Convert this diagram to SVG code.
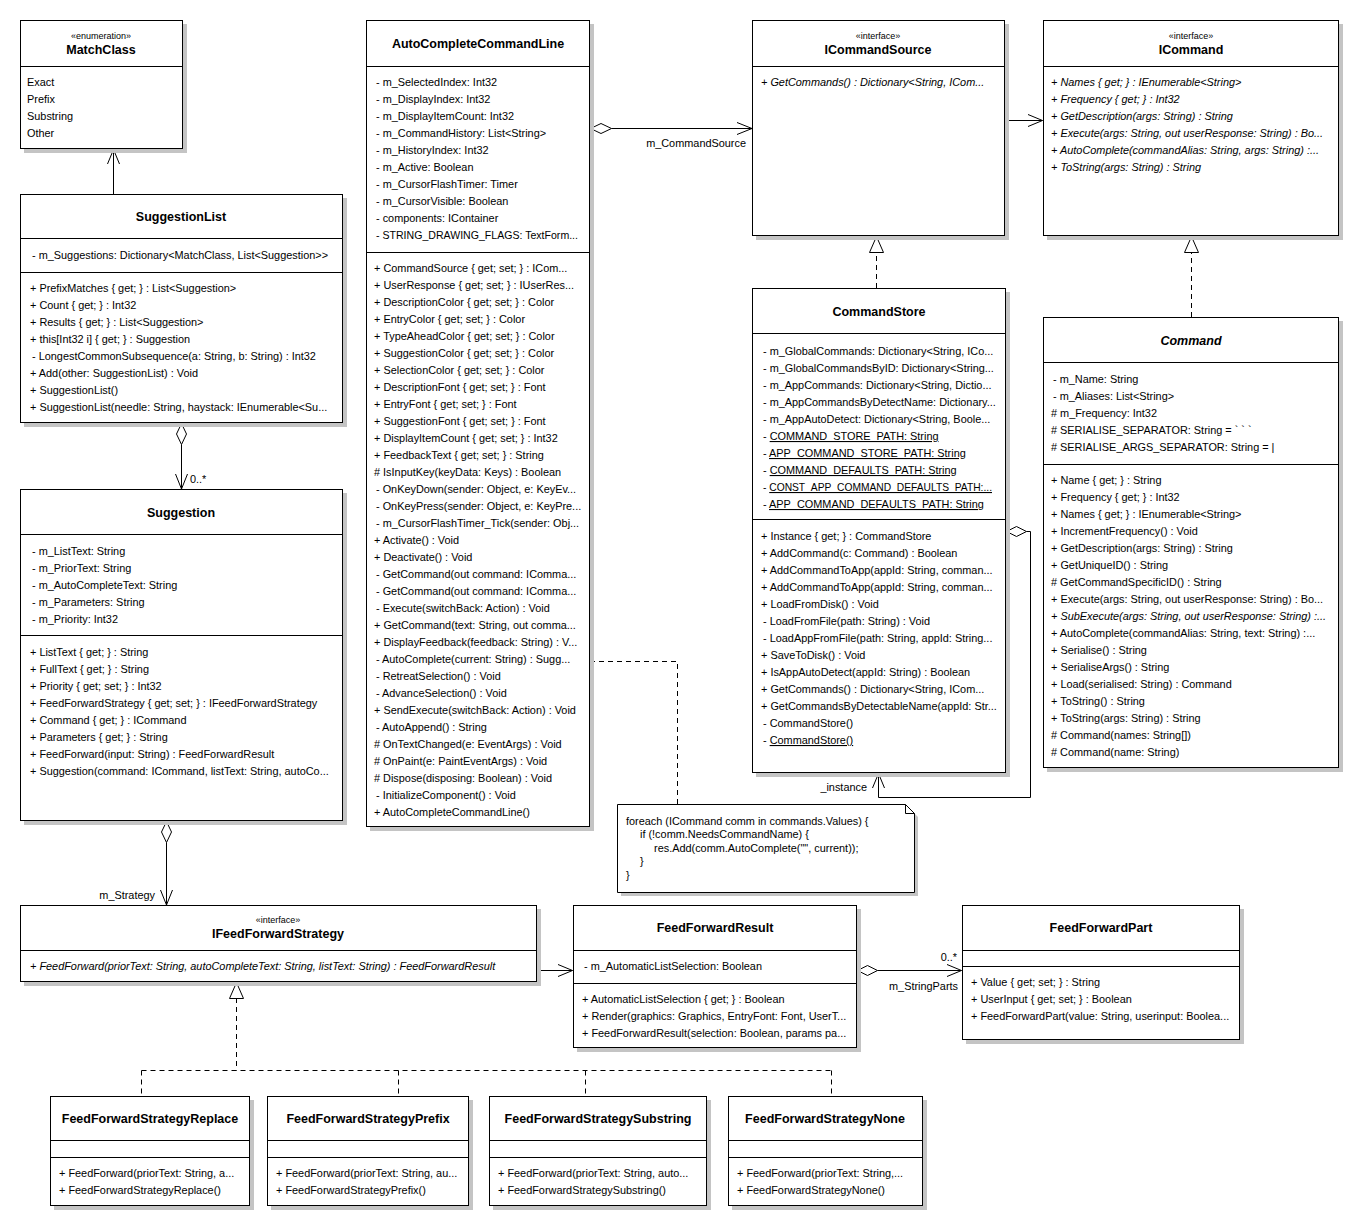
<svg xmlns="http://www.w3.org/2000/svg" width="1364" height="1231" viewBox="0 0 1364 1231">
<style>
.bg{fill:#fff}
.sh{fill:#c4c4c4}
.box{fill:#fff;stroke:#000;stroke-width:1}
.sep{stroke:#000;stroke-width:1}
text{font-family:"Liberation Sans",Arial,sans-serif;font-size:10.9px;fill:#000}
.ti{font-weight:bold;font-size:12.5px;text-anchor:middle}
.st{font-size:9px;text-anchor:middle}
.it{font-style:italic}
.u{text-decoration:underline}
.ln{fill:none;stroke:#000;stroke-width:1}
.dl{fill:none;stroke:#000;stroke-width:1;stroke-dasharray:5,4}
.dia{fill:#fff;stroke:#000;stroke-width:1}
.tri{fill:#fff;stroke:#000;stroke-width:1}
</style>
<rect class="bg" x="0" y="0" width="1364" height="1231"/>

<g id="connectors">
  <path class="ln" d="M113.5,194 V149.5 M107.5,164 L113.5,149.5 L119.5,164"/>
  <path class="dia" d="M181.5,423.5 L176.5,434 L181.5,444.5 L186.5,434 Z"/>
  <path class="ln" d="M181.5,444.5 V489 M175.5,474 L181.5,489 L187.5,474"/>
  <text x="190" y="483">0..*</text>
  <path class="dia" d="M166.5,821.5 L161.5,832 L166.5,842.5 L171.5,832 Z"/>
  <path class="ln" d="M166.5,842.5 V905 M160.5,890 L166.5,905 L172.5,890"/>
  <text x="155" y="899" text-anchor="end">m_Strategy</text>
  <path class="dia" d="M590.5,128.5 L601,123.5 L611.5,128.5 L601,133.5 Z"/>
  <path class="ln" d="M611.5,128.5 H752 M737,122.5 L752,128.5 L737,134.5"/>
  <text x="746" y="147" text-anchor="end">m_CommandSource</text>
  <path class="ln" d="M1005,120.5 H1042.5 M1028,114.5 L1042.5,120.5 L1028,126.5"/>
  <path class="dl" d="M876.5,288 V252"/>
  <path class="tri" d="M876.5,236.5 L869.5,252.5 L883.5,252.5 Z"/>
  <path class="dl" d="M1191.5,317 V252"/>
  <path class="tri" d="M1191.5,236.5 L1184.5,252.5 L1198.5,252.5 Z"/>
  <path class="dia" d="M1006.5,531.5 L1016.5,526.5 L1026.5,531.5 L1016.5,536.5 Z"/>
  <path class="ln" d="M1026.5,531.5 H1030.5 V797.5 H878.5 V773.5 M872.5,788 L878.5,773.5 L884.5,788"/>
  <text x="867" y="791" text-anchor="end">_instance</text>
  <path class="dl" d="M590,661.5 H677.5 V804"/>
  <path class="ln" d="M537,970.5 H572.5 M558,964.5 L572.5,970.5 L558,976.5"/>
  <path class="dia" d="M857.5,970.5 L867.5,965.5 L877.5,970.5 L867.5,975.5 Z"/>
  <path class="ln" d="M877.5,970.5 H961.5 M947,964.5 L961.5,970.5 L947,976.5"/>
  <text x="957" y="961" text-anchor="end">0..*</text>
  <text x="889" y="990">m_StringParts</text>
  <path class="dl" d="M236.5,998 V1070.5 M141.5,1070.5 H831.5 M141.5,1070.5 V1096 M398.5,1070.5 V1096 M585.5,1070.5 V1096 M831.5,1070.5 V1096"/>
  <path class="tri" d="M236.5,982.5 L229.5,998.5 L243.5,998.5 Z"/>
</g>

<g id="MatchClass">
  <rect class="sh" x="24" y="24" width="163" height="129"/>
  <rect class="box" x="20.5" y="20.5" width="162" height="128"/>
  <line class="sep" x1="20.5" y1="66.5" x2="182.5" y2="66.5"/>
  <text class="st" x="101" y="39">«enumeration»</text>
  <text class="ti" x="101" y="54">MatchClass</text>
  <text x="27" y="86">Exact</text>
  <text x="27" y="103">Prefix</text>
  <text x="27" y="120">Substring</text>
  <text x="27" y="137">Other</text>
</g>

<g id="SuggestionList">
  <rect class="sh" x="24" y="198" width="323" height="229"/>
  <rect class="box" x="20.5" y="194.5" width="322" height="228"/>
  <line class="sep" x1="20.5" y1="238.5" x2="342.5" y2="238.5"/>
  <line class="sep" x1="20.5" y1="272.5" x2="342.5" y2="272.5"/>
  <text class="ti" x="181" y="221">SuggestionList</text>
  <text x="32" y="259">- m_Suggestions: Dictionary&lt;MatchClass, List&lt;Suggestion&gt;&gt;</text>
  <text x="30" y="292">+ PrefixMatches { get; } : List&lt;Suggestion&gt;</text>
  <text x="30" y="309">+ Count { get; } : Int32</text>
  <text x="30" y="326">+ Results { get; } : List&lt;Suggestion&gt;</text>
  <text x="30" y="343">+ this[Int32 i] { get; } : Suggestion</text>
  <text x="32" y="360">- LongestCommonSubsequence(a: String, b: String) : Int32</text>
  <text x="30" y="377">+ Add(other: SuggestionList) : Void</text>
  <text x="30" y="394">+ SuggestionList()</text>
  <text x="30" y="411">+ SuggestionList(needle: String, haystack: IEnumerable&lt;Su...</text>
</g>

<g id="Suggestion">
  <rect class="sh" x="24" y="493" width="323" height="332"/>
  <rect class="box" x="20.5" y="489.5" width="322" height="331"/>
  <line class="sep" x1="20.5" y1="534.5" x2="342.5" y2="534.5"/>
  <line class="sep" x1="20.5" y1="635.5" x2="342.5" y2="635.5"/>
  <text class="ti" x="181" y="517">Suggestion</text>
  <text x="32" y="555">- m_ListText: String</text>
  <text x="32" y="572">- m_PriorText: String</text>
  <text x="32" y="589">- m_AutoCompleteText: String</text>
  <text x="32" y="606">- m_Parameters: String</text>
  <text x="32" y="623">- m_Priority: Int32</text>
  <text x="30" y="656">+ ListText { get; } : String</text>
  <text x="30" y="673">+ FullText { get; } : String</text>
  <text x="30" y="690">+ Priority { get; set; } : Int32</text>
  <text x="30" y="707">+ FeedForwardStrategy { get; set; } : IFeedForwardStrategy</text>
  <text x="30" y="724">+ Command { get; } : ICommand</text>
  <text x="30" y="741">+ Parameters { get; } : String</text>
  <text x="30" y="758">+ FeedForward(input: String) : FeedForwardResult</text>
  <text x="30" y="775">+ Suggestion(command: ICommand, listText: String, autoCo...</text>
</g>

<g id="AutoCompleteCommandLine">
  <rect class="sh" x="370" y="24" width="224" height="807"/>
  <rect class="box" x="366.5" y="20.5" width="223" height="806"/>
  <line class="sep" x1="366.5" y1="66.5" x2="589.5" y2="66.5"/>
  <line class="sep" x1="366.5" y1="252.5" x2="589.5" y2="252.5"/>
  <text class="ti" x="478" y="48">AutoCompleteCommandLine</text>
  <text x="376" y="86">- m_SelectedIndex: Int32</text>
  <text x="376" y="103">- m_DisplayIndex: Int32</text>
  <text x="376" y="120">- m_DisplayItemCount: Int32</text>
  <text x="376" y="137">- m_CommandHistory: List&lt;String&gt;</text>
  <text x="376" y="154">- m_HistoryIndex: Int32</text>
  <text x="376" y="171">- m_Active: Boolean</text>
  <text x="376" y="188">- m_CursorFlashTimer: Timer</text>
  <text x="376" y="205">- m_CursorVisible: Boolean</text>
  <text x="376" y="222">- components: IContainer</text>
  <text x="376" y="239" textLength="202" lengthAdjust="spacingAndGlyphs">- STRING_DRAWING_FLAGS:  TextForm...</text>
  <text x="374" y="272">+ CommandSource { get; set; } : ICom...</text>
  <text x="374" y="289">+ UserResponse { get; set; } : IUserRes...</text>
  <text x="374" y="306">+ DescriptionColor { get; set; } : Color</text>
  <text x="374" y="323">+ EntryColor { get; set; } : Color</text>
  <text x="374" y="340">+ TypeAheadColor { get; set; } : Color</text>
  <text x="374" y="357">+ SuggestionColor { get; set; } : Color</text>
  <text x="374" y="374">+ SelectionColor { get; set; } : Color</text>
  <text x="374" y="391">+ DescriptionFont { get; set; } : Font</text>
  <text x="374" y="408">+ EntryFont { get; set; } : Font</text>
  <text x="374" y="425">+ SuggestionFont { get; set; } : Font</text>
  <text x="374" y="442">+ DisplayItemCount { get; set; } : Int32</text>
  <text x="374" y="459">+ FeedbackText { get; set; } : String</text>
  <text x="374" y="476"># IsInputKey(keyData: Keys) : Boolean</text>
  <text x="376" y="493">- OnKeyDown(sender: Object, e: KeyEv...</text>
  <text x="376" y="510">- OnKeyPress(sender: Object, e: KeyPre...</text>
  <text x="376" y="527">- m_CursorFlashTimer_Tick(sender:  Obj...</text>
  <text x="374" y="544">+ Activate() : Void</text>
  <text x="374" y="561">+ Deactivate() : Void</text>
  <text x="376" y="578">- GetCommand(out  command:  IComma...</text>
  <text x="376" y="595">- GetCommand(out  command:  IComma...</text>
  <text x="376" y="612">- Execute(switchBack: Action) : Void</text>
  <text x="374" y="629">+ GetCommand(text: String,  out comma...</text>
  <text x="374" y="646">+ DisplayFeedback(feedback: String) : V...</text>
  <text x="376" y="663">- AutoComplete(current: String) : Sugg...</text>
  <text x="376" y="680">- RetreatSelection() : Void</text>
  <text x="376" y="697">- AdvanceSelection() : Void</text>
  <text x="374" y="714">+ SendExecute(switchBack: Action) : Void</text>
  <text x="376" y="731">- AutoAppend() : String</text>
  <text x="374" y="748"># OnTextChanged(e: EventArgs) : Void</text>
  <text x="374" y="765"># OnPaint(e: PaintEventArgs) : Void</text>
  <text x="374" y="782"># Dispose(disposing: Boolean) : Void</text>
  <text x="376" y="799">- InitializeComponent() : Void</text>
  <text x="374" y="816">+ AutoCompleteCommandLine()</text>
</g>

<g id="ICommandSource">
  <rect class="sh" x="756" y="24" width="253" height="216"/>
  <rect class="box" x="752.5" y="20.5" width="252" height="215"/>
  <line class="sep" x1="752.5" y1="66.5" x2="1004.5" y2="66.5"/>
  <text class="st" x="878" y="39">«interface»</text>
  <text class="ti" x="878" y="54">ICommandSource</text>
  <text class="it" x="761" y="86">+ GetCommands() : Dictionary&lt;String,  ICom...</text>
</g>

<g id="ICommand">
  <rect class="sh" x="1047" y="24" width="296" height="216"/>
  <rect class="box" x="1043.5" y="20.5" width="295" height="215"/>
  <line class="sep" x1="1043.5" y1="66.5" x2="1338.5" y2="66.5"/>
  <text class="st" x="1191" y="39">«interface»</text>
  <text class="ti" x="1191" y="54">ICommand</text>
  <text class="it" x="1051" y="86">+ Names { get; } : IEnumerable&lt;String&gt;</text>
  <text class="it" x="1051" y="103">+ Frequency { get; } : Int32</text>
  <text class="it" x="1051" y="120">+ GetDescription(args: String) : String</text>
  <text class="it" x="1051" y="137">+ Execute(args: String, out userResponse: String) : Bo...</text>
  <text class="it" x="1051" y="154">+ AutoComplete(commandAlias: String,  args: String) :...</text>
  <text class="it" x="1051" y="171">+ ToString(args: String) : String</text>
</g>

<g id="CommandStore">
  <rect class="sh" x="756" y="292" width="254" height="485"/>
  <rect class="box" x="752.5" y="288.5" width="253" height="484"/>
  <line class="sep" x1="752.5" y1="333.5" x2="1005.5" y2="333.5"/>
  <line class="sep" x1="752.5" y1="519.5" x2="1005.5" y2="519.5"/>
  <text class="ti" x="879" y="316">CommandStore</text>
  <text x="763" y="355">- m_GlobalCommands:  Dictionary&lt;String,  ICo...</text>
  <text x="763" y="372">- m_GlobalCommandsByID:  Dictionary&lt;String...</text>
  <text x="763" y="389">- m_AppCommands:  Dictionary&lt;String,  Dictio...</text>
  <text x="763" y="406">- m_AppCommandsByDetectName:  Dictionary...</text>
  <text x="763" y="423">- m_AppAutoDetect: Dictionary&lt;String, Boole...</text>
  <text x="763" y="440">- <tspan class="u">COMMAND_STORE_PATH: String</tspan></text>
  <text x="763" y="457">- <tspan class="u">APP_COMMAND_STORE_PATH: String</tspan></text>
  <text x="763" y="474">- <tspan class="u">COMMAND_DEFAULTS_PATH: String</tspan></text>
  <text x="763" y="491" textLength="229" lengthAdjust="spacingAndGlyphs">- <tspan class="u">CONST_APP_COMMAND_DEFAULTS_PATH:...</tspan></text>
  <text x="763" y="508">- <tspan class="u">APP_COMMAND_DEFAULTS_PATH: String</tspan></text>
  <text x="761" y="540">+ Instance { get; } : CommandStore</text>
  <text x="761" y="557">+ AddCommand(c: Command) : Boolean</text>
  <text x="761" y="574">+ AddCommandToApp(appId:  String,  comman...</text>
  <text x="761" y="591">+ AddCommandToApp(appId:  String,  comman...</text>
  <text x="761" y="608">+ LoadFromDisk() : Void</text>
  <text x="763" y="625">- LoadFromFile(path: String) : Void</text>
  <text x="763" y="642">- LoadAppFromFile(path: String,  appId: String...</text>
  <text x="761" y="659">+ SaveToDisk() : Void</text>
  <text x="761" y="676">+ IsAppAutoDetect(appId: String) : Boolean</text>
  <text x="761" y="693">+ GetCommands()  : Dictionary&lt;String,  ICom...</text>
  <text x="761" y="710">+ GetCommandsByDetectableName(appId:  Str...</text>
  <text x="763" y="727">- CommandStore()</text>
  <text x="763" y="744">- <tspan class="u">CommandStore()</tspan></text>
</g>

<g id="Command">
  <rect class="sh" x="1047" y="321" width="296" height="451"/>
  <rect class="box" x="1043.5" y="317.5" width="295" height="450"/>
  <line class="sep" x1="1043.5" y1="362.5" x2="1338.5" y2="362.5"/>
  <line class="sep" x1="1043.5" y1="464.5" x2="1338.5" y2="464.5"/>
  <text class="ti it" x="1191" y="345">Command</text>
  <text x="1053" y="383">- m_Name: String</text>
  <text x="1053" y="400">- m_Aliases: List&lt;String&gt;</text>
  <text x="1051" y="417"># m_Frequency: Int32</text>
  <text x="1051" y="434"># SERIALISE_SEPARATOR: String = ` ` `</text>
  <text x="1051" y="451"># SERIALISE_ARGS_SEPARATOR: String = |</text>
  <text x="1051" y="484">+ Name { get; } : String</text>
  <text x="1051" y="501">+ Frequency { get; } : Int32</text>
  <text x="1051" y="518">+ Names { get; } : IEnumerable&lt;String&gt;</text>
  <text x="1051" y="535">+ IncrementFrequency() : Void</text>
  <text x="1051" y="552">+ GetDescription(args: String) : String</text>
  <text x="1051" y="569">+ GetUniqueID() : String</text>
  <text x="1051" y="586"># GetCommandSpecificID() : String</text>
  <text x="1051" y="603">+ Execute(args: String, out userResponse: String) : Bo...</text>
  <text class="it" x="1051" y="620">+ SubExecute(args: String, out userResponse: String) :...</text>
  <text x="1051" y="637">+ AutoComplete(commandAlias: String, text: String) :...</text>
  <text x="1051" y="654">+ Serialise() : String</text>
  <text x="1051" y="671">+ SerialiseArgs() : String</text>
  <text x="1051" y="688">+ Load(serialised: String) : Command</text>
  <text x="1051" y="705">+ ToString() : String</text>
  <text x="1051" y="722">+ ToString(args: String) : String</text>
  <text x="1051" y="739"># Command(names: String[])</text>
  <text x="1051" y="756"># Command(name: String)</text>
</g>

<g id="Note">
  <path class="sh" d="M621,808 H909 L918,817 V896 H621 Z"/>
  <path class="box" d="M617.5,804.5 H905.5 L914.5,813.5 V892.5 H617.5 Z"/>
  <path class="ln" d="M905.5,804.5 V813.5 H914.5"/>
  <text x="626" y="825">foreach (ICommand comm in commands.Values) {</text>
  <text x="640" y="838">if (!comm.NeedsCommandName) {</text>
  <text x="654" y="852">res.Add(comm.AutoComplete("", current));</text>
  <text x="640" y="865">}</text>
  <text x="626" y="879">}</text>
</g>

<g id="IFeedForwardStrategy">
  <rect class="sh" x="24" y="909" width="517" height="77"/>
  <rect class="box" x="20.5" y="905.5" width="516" height="76"/>
  <line class="sep" x1="20.5" y1="950.5" x2="536.5" y2="950.5"/>
  <text class="st" x="278" y="923">«interface»</text>
  <text class="ti" x="278" y="938">IFeedForwardStrategy</text>
  <text class="it" x="30" y="970">+ FeedForward(priorText: String, autoCompleteText: String, listText: String) : FeedForwardResult</text>
</g>

<g id="FeedForwardResult">
  <rect class="sh" x="577" y="909" width="284" height="143"/>
  <rect class="box" x="573.5" y="905.5" width="283" height="142"/>
  <line class="sep" x1="573.5" y1="950.5" x2="856.5" y2="950.5"/>
  <line class="sep" x1="573.5" y1="983.5" x2="856.5" y2="983.5"/>
  <text class="ti" x="715" y="932">FeedForwardResult</text>
  <text x="584" y="970">- m_AutomaticListSelection: Boolean</text>
  <text x="582" y="1003">+ AutomaticListSelection { get; } : Boolean</text>
  <text x="582" y="1020">+ Render(graphics: Graphics, EntryFont: Font, UserT...</text>
  <text x="582" y="1037">+ FeedForwardResult(selection: Boolean, params pa...</text>
</g>

<g id="FeedForwardPart">
  <rect class="sh" x="966" y="909" width="278" height="135"/>
  <rect class="box" x="962.5" y="905.5" width="277" height="134"/>
  <line class="sep" x1="962.5" y1="950.5" x2="1239.5" y2="950.5"/>
  <line class="sep" x1="962.5" y1="966.5" x2="1239.5" y2="966.5"/>
  <text class="ti" x="1101" y="932">FeedForwardPart</text>
  <text x="971" y="986">+ Value { get; set; } : String</text>
  <text x="971" y="1003">+ UserInput { get; set; } : Boolean</text>
  <text x="971" y="1020">+ FeedForwardPart(value: String, userinput: Boolea...</text>
</g>

<g id="FeedForwardStrategyReplace">
  <rect class="sh" x="54" y="1100" width="200" height="110"/>
  <rect class="box" x="50.5" y="1096.5" width="199" height="109"/>
  <line class="sep" x1="50.5" y1="1140.5" x2="249.5" y2="1140.5"/>
  <line class="sep" x1="50.5" y1="1157.5" x2="249.5" y2="1157.5"/>
  <text class="ti" x="150" y="1123">FeedForwardStrategyReplace</text>
  <text x="59" y="1177">+ FeedForward(priorText: String, a...</text>
  <text x="59" y="1194">+ FeedForwardStrategyReplace()</text>
</g>

<g id="FeedForwardStrategyPrefix">
  <rect class="sh" x="271" y="1100" width="202" height="110"/>
  <rect class="box" x="267.5" y="1096.5" width="201" height="109"/>
  <line class="sep" x1="267.5" y1="1140.5" x2="468.5" y2="1140.5"/>
  <line class="sep" x1="267.5" y1="1157.5" x2="468.5" y2="1157.5"/>
  <text class="ti" x="368" y="1123">FeedForwardStrategyPrefix</text>
  <text x="276" y="1177">+ FeedForward(priorText: String, au...</text>
  <text x="276" y="1194">+ FeedForwardStrategyPrefix()</text>
</g>

<g id="FeedForwardStrategySubstring">
  <rect class="sh" x="493" y="1100" width="218" height="110"/>
  <rect class="box" x="489.5" y="1096.5" width="217" height="109"/>
  <line class="sep" x1="489.5" y1="1140.5" x2="706.5" y2="1140.5"/>
  <line class="sep" x1="489.5" y1="1157.5" x2="706.5" y2="1157.5"/>
  <text class="ti" x="598" y="1123">FeedForwardStrategySubstring</text>
  <text x="498" y="1177">+ FeedForward(priorText: String, auto...</text>
  <text x="498" y="1194">+ FeedForwardStrategySubstring()</text>
</g>

<g id="FeedForwardStrategyNone">
  <rect class="sh" x="732" y="1100" width="195" height="110"/>
  <rect class="box" x="728.5" y="1096.5" width="194" height="109"/>
  <line class="sep" x1="728.5" y1="1140.5" x2="922.5" y2="1140.5"/>
  <line class="sep" x1="728.5" y1="1157.5" x2="922.5" y2="1157.5"/>
  <text class="ti" x="825" y="1123">FeedForwardStrategyNone</text>
  <text x="737" y="1177">+ FeedForward(priorText: String,...</text>
  <text x="737" y="1194">+ FeedForwardStrategyNone()</text>
</g>
</svg>
